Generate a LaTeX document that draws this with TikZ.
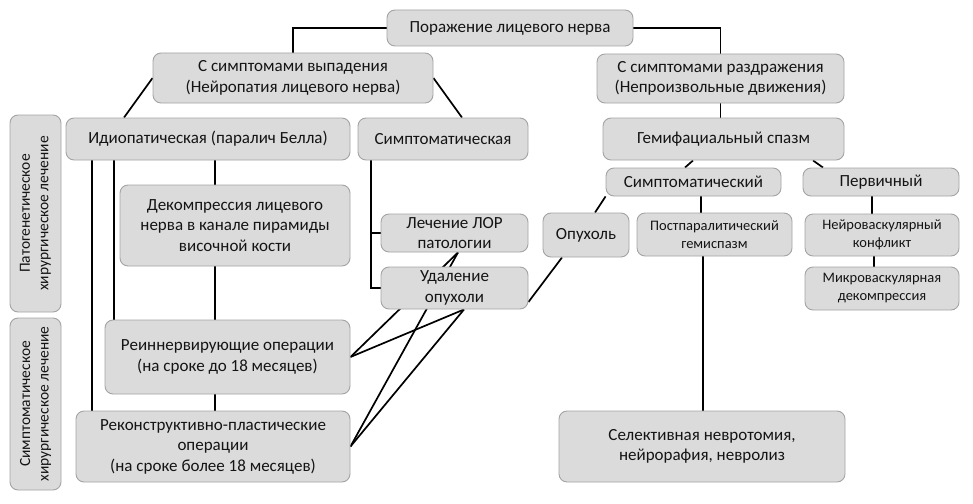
\documentclass[tikz,border=0pt]{standalone}
\usepackage{fontspec}
\setmainfont{Carlito}
\usepackage{tikz}
\pgfdeclarelayer{bg}
\pgfsetlayers{bg,main}
\definecolor{boxfill}{HTML}{DBDBDB}
\definecolor{boxline}{HTML}{A3A3A3}
\definecolor{boxtext}{HTML}{141414}
\tikzset{
  blok/.style={draw=boxline, fill=boxfill, rounded corners=8pt, line width=0.9pt,
    align=center, inner sep=0pt, text=boxtext, font=\fontsize{17}{20.5}\selectfont},
  melko/.style={font=\fontsize{14.5}{18}\selectfont},
  bok/.style={font=\fontsize{15.5}{18.5}\selectfont},
  svyaz/.style={line width=1.7pt, black}
}
\begin{document}
\begin{tikzpicture}[x=1pt,y=-1pt]
    		\useasboundingbox (0,0) rectangle (973,503);
    		% levels
    		\node (porazh) at (510,28) [blok, minimum width=246, minimum height=36] {Поражение лицевого нерва};
    		\node (vypad) at (293,78) [blok, minimum width=280, minimum height=50] {С симптомами выпадения\\(Нейропатия лицевого нерва)};
    		\node (razdr) at (720.5,78.5) [blok, minimum width=247, minimum height=49] {С симптомами раздражения\\(Непроизвольные движения)};
    		\node (idiop) at (208,139) [blok, minimum width=284, minimum height=42] {Идиопатическая (паралич Белла)};
    		\node (simptom) at (443,139) [blok, minimum width=170, minimum height=42] {Симптоматическая};
    		\node (gemi) at (723.5,139) [blok, minimum width=241, minimum height=42] {Гемифациальный спазм};
    		\node (simptomk) at (693.5,182) [blok, minimum width=175, minimum height=28] {Симптоматический};
    		\node (perv) at (881,182) [blok, minimum width=156, minimum height=28] {Первичный};
    		\node (opuh) at (586,235) [blok, minimum width=86, minimum height=44] {Опухоль};
    		\node (postpar) at (714.5,234.5) [blok, melko, minimum width=155, minimum height=43] {Постпаралитический\\гемиспазм};
    		\node (neirovask) at (882,235) [blok, melko, minimum width=154, minimum height=42] {Нейроваскулярный\\конфликт};
    		\node (mikro) at (882,288.5) [blok, melko, minimum width=154, minimum height=43] {Микроваскулярная\\декомпрессия};
    		\node (dekompr) at (235,225.5) [blok, minimum width=230, minimum height=81] {Декомпрессия лицевого\\нерва в канале пирамиды\\височной кости};
    		\node (lor) at (454.5,233) [blok, minimum width=147, minimum height=38] {Лечение ЛОР\\патологии};
    		\node (udal) at (454.5,288) [blok, minimum width=147, minimum height=42] {Удаление\\опухоли};
    		\node (reinn) at (227.5,357) [blok, minimum width=245, minimum height=74] {Реиннервирующие операции\\(на сроке до 18 месяцев)};
    		\node (rekonstr) at (213,446.5) [blok, minimum width=274, minimum height=71] {Реконструктивно-пластические\\операции\\(на сроке более 18 месяцев)};
    		\node (selekt) at (702,446.5) [blok, minimum width=286, minimum height=71] {Селективная невротомия,\\нейрорафия, невролиз};
    		% side labels
    		\node (patog) at (35.5,213.5) [blok, bok, rotate=90, minimum width=197, minimum height=51] {Патогенетическое\\хирургическое лечение};
    		\node (simpt) at (35.5,404) [blok, bok, rotate=90, minimum width=172, minimum height=51] {Симптоматическое\\хирургическое лечение};
    		\begin{pgfonlayer}{bg}
    		\draw [svyaz] (porazh.west) -| (vypad.north);
    		\draw [svyaz] (porazh.east) -| (razdr.north);
    		\draw [svyaz] (vypad.west) -- ([xshift=-84pt]idiop.north);
    		\draw [svyaz] (vypad.east) -- ([xshift=19pt]simptom.north);
    		\draw [svyaz] (razdr.south) -- (razdr.south |- gemi.north);
    		\draw [svyaz] ([xshift=-30.5pt]gemi.south) -- ([xshift=-8.5pt]simptomk.north);
    		\draw [svyaz] ([xshift=89.5pt]gemi.south) -- ([xshift=-58pt]perv.north);
    		\draw [svyaz] (simptomk.south west) -- ([xshift=9pt]opuh.north);
    		\draw [svyaz] ([xshift=7.5pt]simptomk.south) -- ([xshift=-13.5pt]postpar.north);
    		\draw [svyaz] ([xshift=-11.5pt]postpar.south) -- ([xshift=1pt]selekt.north);
    		\draw [svyaz] ([xshift=-9pt]perv.south) -- ([xshift=-10pt]neirovask.north);
    		\draw [svyaz] ([xshift=-8pt]neirovask.south) -- ([xshift=-8pt]mikro.north);
    		\draw [svyaz] ([xshift=7pt]idiop.south) -- ([xshift=-20pt]dekompr.north);
    		\draw [svyaz] ([xshift=-20pt]dekompr.south) -- ([xshift=-12.5pt]reinn.north);
    		\draw [svyaz] ([xshift=-12.5pt]reinn.south) -- ([xshift=2pt]rekonstr.north);
    		\draw [svyaz] ([xshift=-94pt]idiop.south) -- ([xshift=-113.5pt]reinn.north);
    		\draw [svyaz] ([xshift=-116pt]idiop.south) -- ([xshift=-121pt]rekonstr.north);
    		\draw [svyaz] ([xshift=-72pt]simptom.south) |- (lor.west);
    		\draw [svyaz] ([xshift=-72pt]simptom.south) |- (udal.west);
    		\draw [svyaz] ([yshift=-14pt]udal.east) -- ([xshift=-24pt]opuh.south);
    		\foreach \a in {reinn,rekonstr}
    		\foreach \b/\s in {lor/3.5,udal/9.5}
    		{
    			\draw [svyaz] (\a.east) -- ([xshift=\s pt]\b.south);
    		}
    		\end{pgfonlayer}
\end{tikzpicture}
\end{document}
